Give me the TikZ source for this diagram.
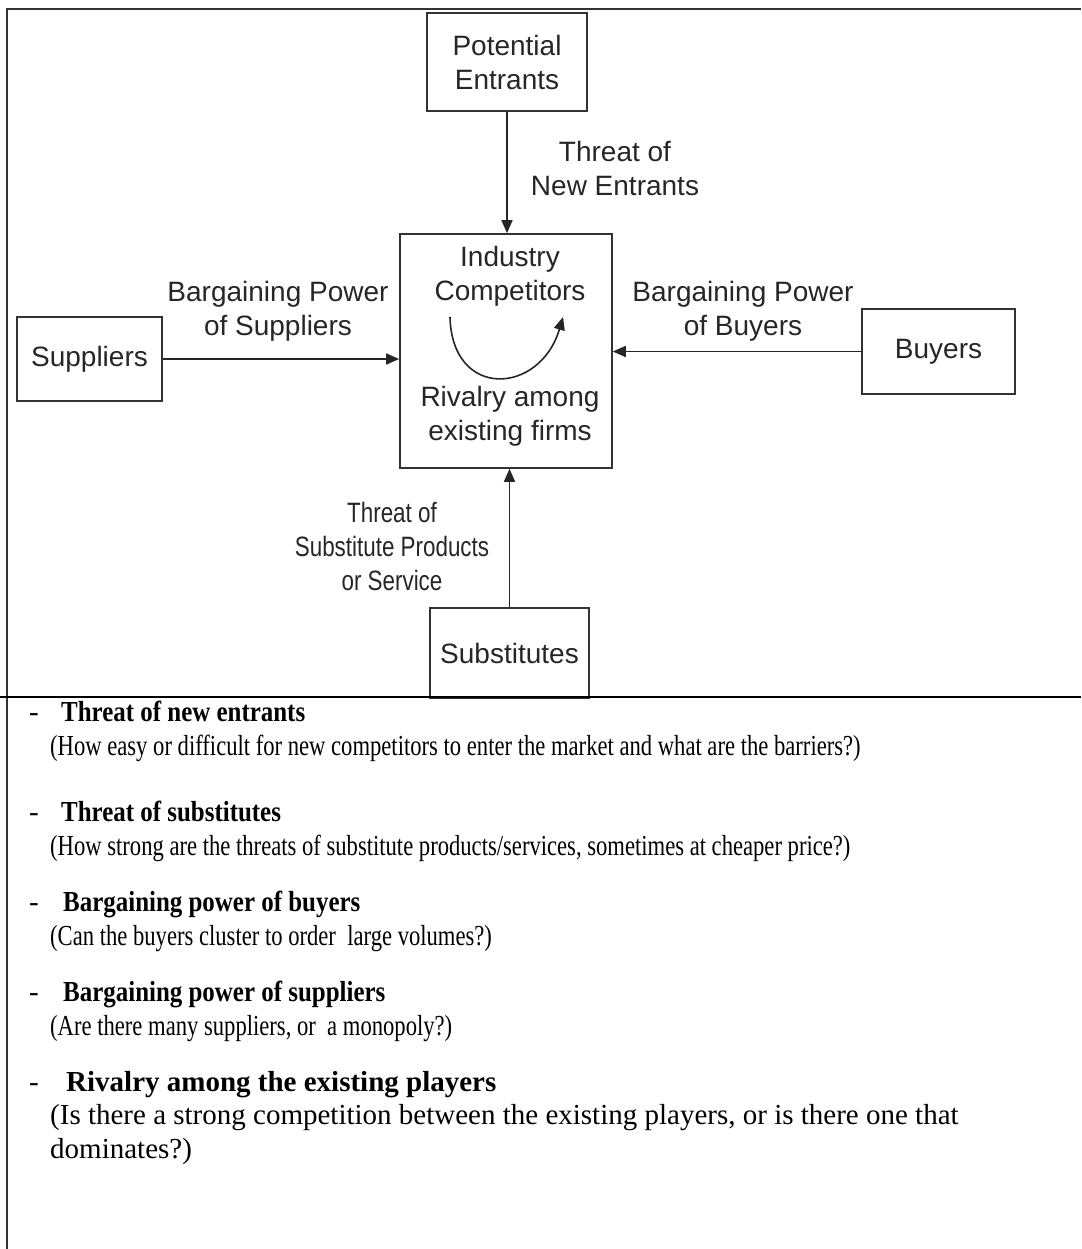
\documentclass[tikz,border=0pt]{standalone}
\usepackage{fontspec}
\setmainfont{Liberation Serif}
\newfontfamily\arialf{Liberation Sans}
\newfontfamily\arialcond[FakeStretch=0.8]{Liberation Sans}
\newfontfamily\condf[FakeStretch=0.78]{Liberation Serif}
\newfontfamily\condh[FakeStretch=0.86]{Liberation Serif}
\usetikzlibrary{arrows.meta}
\begin{document}
\begin{tikzpicture}[x=1pt,y=-1pt,
  box/.style={draw=black!80,line width=1.6pt,inner sep=0pt,font=\arialf\fontsize{28}{34}\selectfont,align=center,text=black!85},
  lbl/.style={font=\arialf\fontsize{28}{34}\selectfont,align=center,text=black!85,inner sep=0pt},
  lblc/.style={font=\arialcond\fontsize{28}{34}\selectfont,align=center,text=black!85,inner sep=0pt},
  arr/.style={line width=1.6pt,draw=black!85,-{Triangle[length=13pt,width=11pt]}},
  dashmark/.style={anchor=base west,inner sep=0pt,font=\fontsize{29}{34}\selectfont},
  head/.style={anchor=base west,inner sep=0pt,font=\condh\bfseries\fontsize{29}{34}\selectfont},
  desc/.style={anchor=base west,inner sep=0pt,font=\condf\fontsize{29}{34}\selectfont},
  headn/.style={anchor=base west,inner sep=0pt,font=\bfseries\fontsize{29}{34}\selectfont},
  descn/.style={anchor=base west,inner sep=0pt,font=\fontsize{29}{34}\selectfont},
]
\useasboundingbox (0,0) rectangle (1081,1249);
% frame
\draw[line width=1.6pt,black!80] (1081,9) -- (7,9) -- (7,1249);

% boxes
\node[box,minimum width=160pt,minimum height=98pt] (pe) at (507,62) {Potential\\Entrants};
\node[box,minimum width=212pt,minimum height=234pt] (ic) at (506,351) {};
\node[lbl] (ictop) at (510,276) {Industry\\Competitors};
\node[lbl] (icbot) at (510,416) {Rivalry among\\existing firms};
\node[box,minimum width=145pt,minimum height=84pt] (sup) at (89.5,359) {Suppliers};
\node[box,minimum width=153pt,minimum height=85pt] (buy) at (938.5,351.5) {Buyers};
\node[box,minimum width=159pt,minimum height=90pt] (sub) at (509.5,653) {Substitutes};

% arrows
\draw[arr] (pe.south) -- (pe.south |- ic.north);
\draw[arr] (sup.east) -- (sup.east -| ic.west);
\draw[arr] (buy.west) -- (buy.west -| ic.east);
\draw[arr] (sub.north) -- (sub.north |- ic.south);
\coordinate (cs) at (450,317);
\coordinate (ce) at (563,317);
\draw[arr] (cs) .. controls (452,400) and (540,395) .. (ce);

% labels
\node[lbl] (l1) at (615,168) {Threat of\\New Entrants};
\node[lbl] (l2) at (278,311) {Bargaining Power\\of Suppliers};
\node[lbl] (l3) at (743,311) {Bargaining Power\\of Buyers};
\node[lblc] (l4) at (392,546) {Threat of\\Substitute Products\\or Service};

% separator
\draw[line width=2.6pt,black] (0,697) -- (1081,697);

% bottom text
\node[dashmark] (d1) at (29,721) {-};
\node[head] (h1) at (61,721) {Threat of new entrants};
\node[desc] (t1) at (50,755) {(How easy or difficult for new competitors to enter the market and what are the barriers?)};
\node[dashmark] (d2) at (29,821) {-};
\node[head] (h2) at (61,821) {Threat of substitutes};
\node[desc] (t2) at (50,855) {(How strong are the threats of substitute products/services, sometimes at cheaper price?)};
\node[dashmark] (d3) at (29,911) {-};
\node[head] (h3) at (63,911) {Bargaining power of buyers};
\node[desc] (t3) at (50,945) {(Can the buyers cluster to order\ \ large volumes?)};
\node[dashmark] (d4) at (29,1001) {-};
\node[head] (h4) at (63,1001) {Bargaining power of suppliers};
\node[desc] (t4) at (50,1035) {(Are there many suppliers, or\ \ a monopoly?)};
\node[dashmark] (d5) at (29,1091) {-};
\node[headn] (h5) at (66,1091) {Rivalry among the existing players};
\node[descn] (t5) at (50,1124) {(Is there a strong competition between the existing players, or is there one that};
\node[descn] (t6) at (50,1158) {dominates?)};
\end{tikzpicture}
\end{document}
